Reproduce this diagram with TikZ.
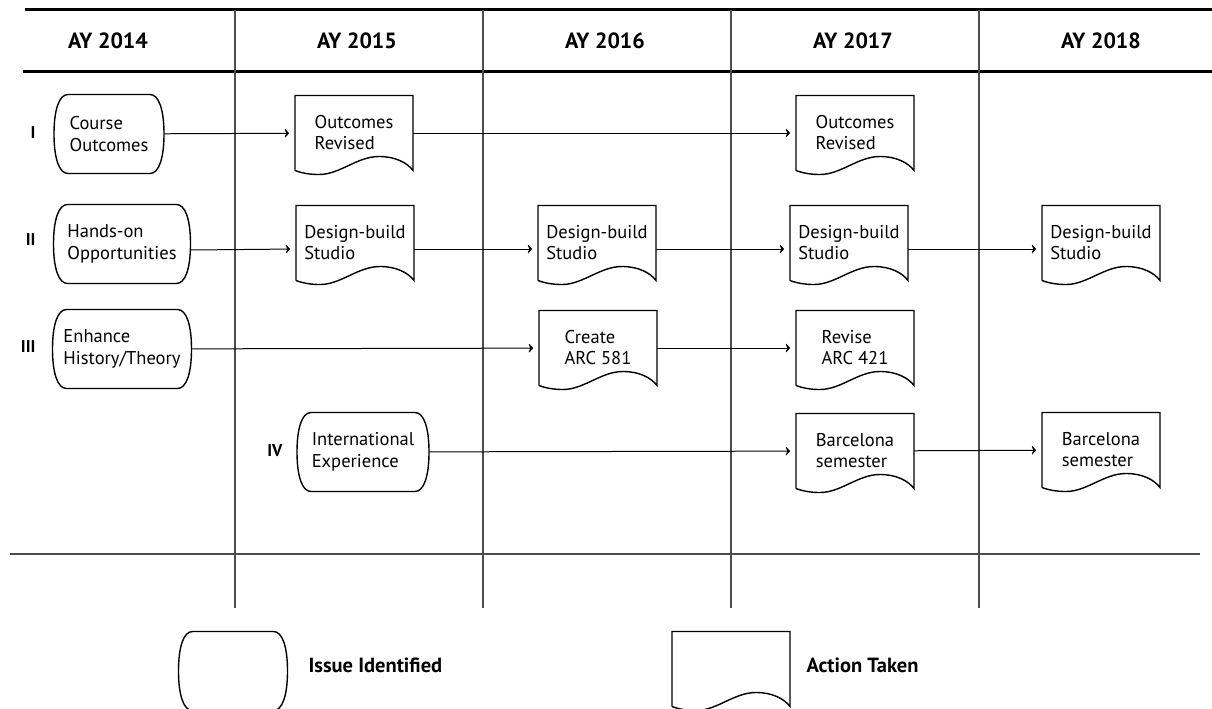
\documentclass[tikz,border=0pt]{standalone}
\usepackage{fontspec}
\setmainfont{PT Sans}
\usetikzlibrary{arrows.meta,calc}

\begin{document}
\begin{tikzpicture}[x=1pt, y=-1pt,
    yearlbl/.style={font=\fontsize{22}{26}\selectfont\bfseries},
    numlbl/.style={font=\fontsize{17}{20}\selectfont\bfseries, anchor=east},
    legtxt/.style={font=\fontsize{20.5}{24}\selectfont\bfseries, anchor=west},
    issue/.style={minimum height=79pt, inner sep=0pt, outer sep=0pt, align=left, font=\fontsize{18.5}{21.5}\selectfont,
        append after command={\pgfextra{\draw[line width=1.4pt]
            ($(\tikzlastnode.north west)+(14,0)$) -- ($(\tikzlastnode.north east)+(-14,0)$)
            .. controls ($(\tikzlastnode.north east)+(-5,0)$) and ($(\tikzlastnode.east)+(0,-24)$) .. (\tikzlastnode.east)
            .. controls ($(\tikzlastnode.east)+(0,24)$) and ($(\tikzlastnode.south east)+(-5,0)$) .. ($(\tikzlastnode.south east)+(-14,0)$)
            -- ($(\tikzlastnode.south west)+(14,0)$)
            .. controls ($(\tikzlastnode.south west)+(5,0)$) and ($(\tikzlastnode.west)+(0,24)$) .. (\tikzlastnode.west)
            .. controls ($(\tikzlastnode.west)+(0,-24)$) and ($(\tikzlastnode.north west)+(5,0)$) .. ($(\tikzlastnode.north west)+(14,0)$);}}},
    action/.style={minimum width=118pt, minimum height=75pt, inner sep=0pt, outer sep=0pt, align=left, font=\fontsize{18.5}{21}\selectfont,
        append after command={\pgfextra{\draw[line width=1.4pt, shift={(\tikzlastnode.north west)}]
            (0,75) -- (0,0) -- (118,0) -- (118,75) .. controls (112,67) and (100,61) .. (84,61)
            .. controls (62,61) and (45,79) .. (24,79) .. controls (16,79) and (8,78) .. (0,75);}}},
    flow/.style={-{Stealth[length=5pt, width=11pt, inset=2.2pt, round]}, line width=1pt, shorten >=6pt},
    lane/.style={line width=1.3pt, black!70}
]
    \useasboundingbox (0,0) rectangle (1212,709);

    % table frame
    \draw[line width=3pt] (25,10) -- (1212,10);
    \draw[line width=3pt] (23,71) -- (1212,71);
    \foreach \x in {235,483,731,979} \draw[lane] (\x,10) -- (\x,608);
    \draw[lane] (10,554) -- (1200,554);
    \foreach \x/\yr in {108/2014, 357/2015, 605/2016, 853/2017, 1101/2018} \node[yearlbl] (h\yr) at (\x,41) {AY \yr};

    % issues
    \node[numlbl] (n1) at (39,133) {I};   \node[issue, minimum width=110pt] (co) at (109,134) {Course\\Outcomes};
    \node[numlbl] (n2) at (39,240) {II};  \node[issue, minimum width=137pt] (ho) at (122,244) {Hands-on\\Opportunities};
    \node[numlbl] (n3) at (39,347) {III}; \node[issue, minimum width=139pt] (eh) at (122,349) {Enhance\\History/Theory};
    \node[numlbl] (n4) at (286,451) {IV}; \node[issue, minimum width=132pt] (ie) at (363,452) {International\\Experience};

    % actions
    \node[action] (or15) at (354,133) {Outcomes\\Revised};
    \node[action] (or17) at (855,133) {Outcomes\\Revised};
    \node[action] (db15) at (355,243) {Design-build\\Studio};
    \node[action] (db16) at (597,243) {Design-build\\Studio};
    \node[action] (db17) at (849,243) {Design-build\\Studio};
    \node[action] (db18) at (1101,243) {Design-build\\Studio};
    \node[action] (ca16) at (598,348) {Create\\ARC 581};
    \node[action] (ra17) at (855,348) {Revise\\ARC 421};
    \node[action] (bs17) at (855,451) {Barcelona\\semester};
    \node[action] (bs18) at (1101,450) {Barcelona\\semester};

    \draw[flow] (co) -- (or15);
    \draw[flow] (or15) -- (or17);
    \draw[flow] ([yshift=-6pt]ho.east) -- ([yshift=-6pt]db15.west);
    \draw[flow] ([yshift=-6pt]db15.east) -- ([yshift=-6pt]db16.west);
    \draw[flow] ([yshift=-6pt]db16.east) -- ([yshift=-6pt]db17.west);
    \draw[flow] ([yshift=-6pt]db17.east) -- ([yshift=-6pt]db18.west);
    \draw[flow] (eh) -- (ca16);
    \draw[flow] (ca16) -- (ra17);
    \draw[flow] (ie) -- (bs17);
    \draw[flow] (bs17) -- (bs18);

    % legend
    \node[issue, minimum width=109pt] (legIssue) at (233,671) {};
    \node[legtxt] (legIssueTxt) at (305,665) {Issue Identified};
    \node[action] (legAction) at (731,669) {};
    \node[legtxt] (legActionTxt) at (803,665) {Action Taken};
\end{tikzpicture}
\end{document}
